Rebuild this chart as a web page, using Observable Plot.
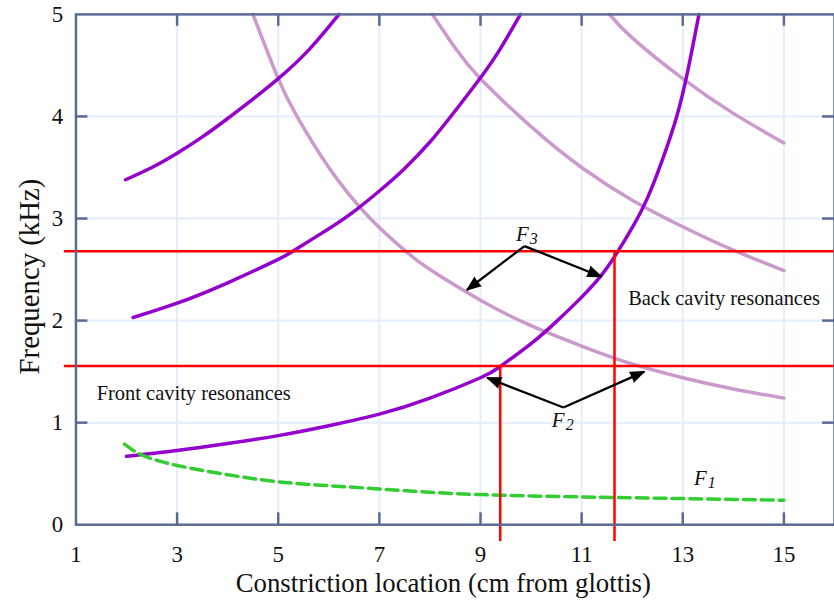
<!DOCTYPE html>
<html>
<head>
<meta charset="utf-8">
<script src="https://cdn.jsdelivr.net/npm/d3@7"></script>
<script src="https://cdn.jsdelivr.net/npm/@observablehq/plot@0.6"></script>
<style>
  html, body { margin: 0; padding: 0; background: #fff; overflow: hidden; width: 834px; height: 604px; }
  #chart { width: 834px; height: 604px; overflow: hidden; }
</style>
</head>
<body>
<div id="chart"></div>
<script>
// Axis ticks
const xTicks = [1, 3, 5, 7, 9, 11, 13, 15];
const yTicks = [0, 1, 2, 3, 4, 5];

// Front cavity resonances, [constriction location (cm), frequency (kHz)]
const front1 = [[2.0,0.67],[3,0.727],[4,0.795],[5,0.873],[6,0.97],[7,1.083],[8,1.24],[9,1.44],[9.4,1.553],[10,1.775],[10.5,1.99],[11,2.23],[11.4,2.45],[11.72,2.68],[12.0,2.91],[12.3,3.2],[12.6,3.58],[12.88,4.0],[13.1,4.45],[13.32,5.0]];
const front2 = [[2.13,2.03],[3,2.17],[4,2.37],[5,2.6],[5.32,2.69],[6,2.9],[6.5,3.07],[7,3.27],[7.5,3.49],[8,3.75],[8.38,3.98],[9,4.38],[9.4,4.67],[9.79,5.0]];
const front3 = [[1.98,3.38],[2.5,3.5],[3,3.64],[3.5,3.8],[4,3.98],[4.5,4.17],[5,4.37],[5.6,4.65],[6.2,5.0]];

// Back cavity resonances
const back1 = [[4.5,5.0],[5,4.37],[5.36,4.01],[6,3.5],[6.82,3.0],[7.52,2.68],[8,2.5],[9,2.2],[10,1.95],[11,1.75],[11.9,1.59],[13,1.44],[14,1.33],[15,1.24]];
const back2 = [[8.05,5.0],[8.5,4.67],[9,4.37],[10,3.9],[11,3.5],[12,3.18],[13,2.92],[14,2.69],[15,2.49]];
const back3 = [[11.55,5.0],[12,4.77],[13,4.37],[14,4.03],[15,3.74]];

// First formant
const f1 = [[1.96,0.79],[2.32,0.68],[3,0.58],[4,0.49],[5,0.42],[6,0.382],[7,0.35],[8,0.318],[9,0.295],[10,0.282],[11,0.272],[12,0.264],[13,0.256],[14,0.248],[15,0.24]];

// Formant crossings: F2 and F3 levels and the constriction locations where they occur
const formantLevels = [1.555, 2.68];
const crossingX = [9.39, 11.65];
const lineStartX = 0.76;
const lineEndX = 16;
const dropBottomY = -0.16;

// Annotation arrows (tail at label, head at curve)
const arrowFromX = [9.87, 9.87, 10.64, 10.64];
const arrowFromY = [2.73, 2.73, 1.148, 1.148];
const arrowToX = [8.73, 11.39, 9.13, 12.24];
const arrowToY = [2.30, 2.43, 1.44, 1.50];

// Formant labels
const formantLetters = ["F", "F", "F"];
const formantSubs = ["1", "2", "3"];
const formantLabelX = [13.22, 10.41, 9.70];
const formantLabelY = [0.457, 1.026, 2.85];

// Region labels
const regionText = ["Front cavity resonances", "Back cavity resonances"];
const regionX = [1.41, 11.92];
const regionY = [1.284, 2.215];

const xLabel = "Constriction location (cm from glottis)";
const yLabel = "Frequency (kHz)";

const xDomain = [1, 16];
const yDomain = [0, 5];

const W = 840, H = 604;
const mL = 76, mR = 0, mT = 14, mB = 76;
const innerW = W - mL - mR, innerH = H - mT - mB;
const tickLen = 12;

const axisColor = "#5b6a94";
const gridColor = "#e4edfb";
const frontColor = "#9400cc";
const backColor = "#cc99cc";
const f1Color = "#33cc33";

const pts = (arr) => arr.map(([x, y]) => ({x, y}));
const curve = (arr, color, extra = {}) =>
  Plot.line(pts(arr), {x: "x", y: "y", stroke: color, strokeWidth: 3.5, curve: "natural", ...extra});

// pixels per data unit, used to orient the arrowheads on screen
const kx = innerW / (xDomain[1] - xDomain[0]);
const ky = innerH / (yDomain[1] - yDomain[0]);

const hLines = formantLevels.map((y) => ({x1: lineStartX, x2: lineEndX, y}));
const vLines = crossingX.map((x, i) => ({x, y1: dropBottomY, y2: formantLevels[i]}));
const arrows = arrowFromX.map((x, i) => {
  const x1 = x, y1 = arrowFromY[i], x2 = arrowToX[i], y2 = arrowToY[i];
  const angle = Math.atan2((x2 - x1) * kx, (y2 - y1) * ky) * 180 / Math.PI;
  return {x1, y1, x2, y2, angle};
});
const formants = formantLetters.map((t, i) => ({t, s: formantSubs[i], x: formantLabelX[i], y: formantLabelY[i]}));
const regions = regionText.map((t, i) => ({t, x: regionX[i], y: regionY[i]}));

const innerXTicks = xTicks.filter((d) => d > xDomain[0]);
const innerYTicks = yTicks.filter((d) => d > yDomain[0] && d < yDomain[1]);

const chart = Plot.plot({
  width: W,
  height: H,
  marginLeft: mL,
  marginRight: mR,
  marginTop: mT,
  marginBottom: mB,
  x: {domain: xDomain},
  y: {domain: yDomain},
  style: {fontFamily: "'Liberation Serif', 'Times New Roman', serif", fontSize: "20px", color: "#111", background: "#fff", overflow: "visible"},
  marks: [
    Plot.gridX(innerXTicks, {stroke: gridColor, strokeOpacity: 1, strokeWidth: 2}),
    Plot.gridY(innerYTicks, {stroke: gridColor, strokeOpacity: 1, strokeWidth: 2}),

    curve(back1, backColor),
    curve(back2, backColor),
    curve(back3, backColor),
    curve(front1, frontColor),
    curve(front2, frontColor),
    curve(front3, frontColor),
    curve(f1, f1Color, {strokeDasharray: "12,6", strokeWidth: 3.5}),

    Plot.link(hLines, {x1: "x1", x2: "x2", y1: "y", y2: "y", stroke: "#ff0000", strokeWidth: 2.5}),
    Plot.link(vLines, {x1: "x", x2: "x", y1: "y1", y2: "y2", stroke: "#ff0000", strokeWidth: 2.5}),

    // arrow shafts and filled heads
    Plot.link(arrows, {x1: "x1", y1: "y1", x2: "x2", y2: "y2", stroke: "black", strokeWidth: 2.3}),
    Plot.vector(arrows, {x: "x2", y: "y2", rotate: "angle", length: 14, r: 5.5, anchor: "end", shape: "spike", fill: "black", stroke: "black", strokeWidth: 1}),

    Plot.frame({stroke: axisColor, strokeWidth: 2.5}),
    Plot.tickX(innerXTicks, {x: (d) => d, stroke: axisColor, strokeWidth: 2.5, insetTop: innerH - tickLen}),
    Plot.tickX(innerXTicks, {x: (d) => d, stroke: axisColor, strokeWidth: 2.5, insetBottom: innerH - tickLen}),
    Plot.tickY(innerYTicks, {y: (d) => d, stroke: axisColor, strokeWidth: 2.5, insetRight: innerW - tickLen}),
    Plot.tickY(innerYTicks, {y: (d) => d, stroke: axisColor, strokeWidth: 2.5, insetLeft: innerW - tickLen}),

    Plot.axisX(xTicks, {tickSize: 0, tickPadding: 21, fontSize: 23, label: null, fill: "#111", tickFormat: (d) => String(d)}),
    Plot.axisY(yTicks, {tickSize: 0, tickPadding: 13, fontSize: 23, label: null, fill: "#111", tickFormat: (d) => String(d)}),

    Plot.text([xLabel], {text: (d) => d, frameAnchor: "bottom", lineAnchor: "middle", textAnchor: "middle", dx: -12, dy: 59, fontSize: 27, fill: "#111"}),
    Plot.text([yLabel], {text: (d) => d, frameAnchor: "left", lineAnchor: "middle", textAnchor: "middle", rotate: -90, dx: -47, dy: 7, fontSize: 29, fill: "#111"}),

    Plot.text(regions, {x: "x", y: "y", text: "t", textAnchor: "start", fontSize: 20.6, fill: "#111"}),
    Plot.text(formants, {x: "x", y: "y", text: "t", textAnchor: "start", fontSize: 21, fontStyle: "italic", fill: "#111"}),
    Plot.text(formants, {x: "x", y: "y", text: "s", textAnchor: "start", fontSize: 16, fontStyle: "italic", dx: 14, dy: 5, fill: "#111"})
  ]
});

document.getElementById("chart").appendChild(chart);
</script>
</body>
</html>
